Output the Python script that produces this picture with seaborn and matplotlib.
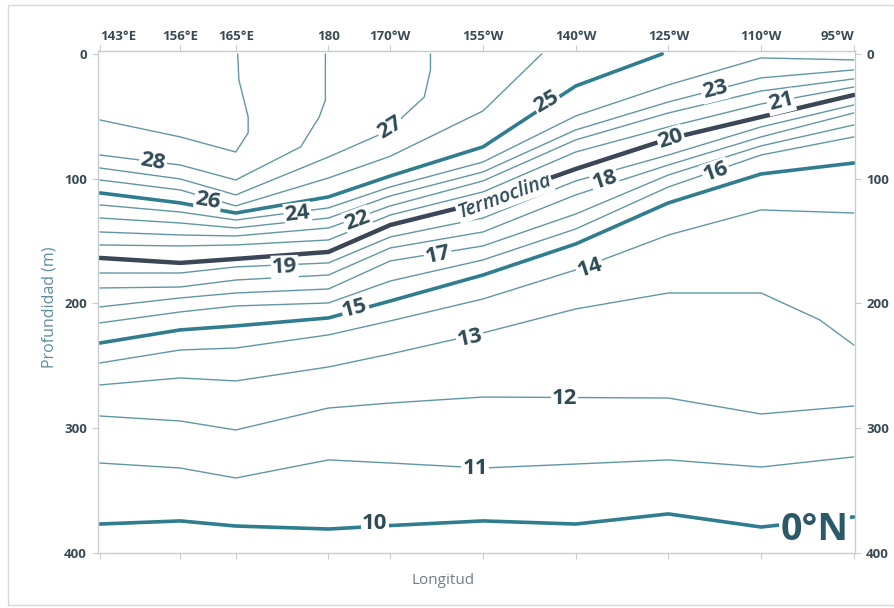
import matplotlib

matplotlib.use("Agg")
import matplotlib.pyplot as plt
import seaborn as sns
from matplotlib.patches import Rectangle

# station longitudes in degrees east (143°E ... 95°W)
stations = [143, 156, 165, 180, 190, 205, 220, 235, 250, 265]
lon_labels = ["143°E", "156°E", "165°E", "180", "170°W", "155°W",
              "140°W", "125°W", "110°W", "95°W"]
depth_ticks = [0, 100, 200, 300, 400]

# isotherm depths (m) read at each station
depth_10 = [376.8, 374.3, 378.4, 380.8, 378.0, 374.3, 376.8, 368.7, 379.2, 371.1]
depth_11 = [327.9, 331.9, 339.9, 325.4, 327.9, 331.9, 328.7, 325.4, 331.1, 323.0]
depth_12 = [290.2, 294.2, 301.4, 283.8, 279.8, 275.0, 275.4, 275.8, 288.6, 282.2]
depth_14 = [247.7, 237.3, 235.7, 225.2, 214.0, 196.4, 173.1, 145.1, 125.0, 127.5]
depth_15 = [231.7, 221.2, 218.0, 211.6, 198.0, 177.2, 152.3, 119.4, 96.2, 87.4]
depth_16 = [215.6, 206.8, 202.0, 199.6, 182.0, 165.1, 140.3, 106.6, 81.0, 66.5]
depth_17 = [202.8, 195.6, 191.6, 188.4, 165.9, 153.9, 128.3, 97.0, 73.7, 56.9]
depth_18 = [187.6, 186.8, 181.2, 177.2, 155.5, 142.7, 113.0, 89.0, 66.5, 47.3]
depth_19 = [175.6, 175.6, 170.7, 167.5, 146.7, 131.5, 101.8, 81.0, 58.5, 40.9]
depth_20 = [163.5, 167.5, 164.3, 158.7, 137.1, 118.6, 92.2, 68.1, 50.5, 32.9]
depth_21 = [153.1, 153.9, 153.1, 149.1, 129.1, 110.6, 78.6, 58.5, 40.1, 26.5]
depth_22 = [142.7, 145.1, 145.9, 139.5, 121.8, 101.8, 68.9, 47.3, 29.7, 20.0]
depth_23 = [131.5, 135.5, 139.5, 131.5, 113.8, 94.6, 60.9, 38.5, 19.2, 12.8]
depth_24 = [121.0, 126.7, 133.1, 123.4, 106.6, 86.6, 49.7, 24.8, 3.2, 4.8]

# isotherms with their own longitude points (bends or surface outcrops)
lon_13 = [143, 156, 165, 180, 190, 205, 220, 235, 250, 259.5, 265]
depth_13 = [265.3, 259.7, 262.1, 250.9, 240.5, 223.6, 204.4, 191.6, 191.6, 213.2, 233.3]
lon_25 = [143, 156, 165, 180, 190, 205, 220, 234]
depth_25 = [111.4, 119.4, 127.5, 114.6, 97.8, 74.5, 25.7, 0]
lon_26 = [143, 156, 165, 180, 190, 205, 214.5]
depth_26 = [101.0, 109.0, 121.8, 99.4, 82.0, 45.7, 0]
lon_27 = [143, 156, 165, 180, 190, 192, 195.5, 196.5, 196.5]
depth_27 = [91.4, 100.2, 113.0, 82.6, 60.9, 50.5, 34.5, 12.8, 0]
lon_28 = [143, 156, 165, 175.5, 178.5, 179.5, 179.5]
depth_28 = [81.0, 89.0, 101.0, 74.5, 50.5, 36.9, 0]
lon_29 = [143, 156, 165, 167, 167, 165.5, 165.3]
depth_29 = [52.9, 66.5, 78.6, 63.3, 50.5, 20.8, 0]

# contour labels
label_text = ["28", "26", "24", "27", "22", "19", "17", "15", "25", "23",
              "21", "20", "18", "16", "14", "13", "12", "11", "10"]
label_lon = [151.6, 160.5, 175.0, 190.0, 184.7, 172.9, 197.7, 184.3, 215.3, 242.5,
             253.2, 235.4, 224.7, 242.7, 222.3, 202.9, 218.2, 203.7, 187.5]
label_depth = [86.6, 117.8, 128.3, 59.3, 133.1, 170.7, 161.1, 203.6, 38.5, 28.9,
               38.5, 68.1, 101.0, 94.6, 171.5, 227.7, 275.8, 331.9, 376.0]
label_rot = [-10, -10, 7, 32, 20, 2, 12, 15, 30, 14,
             14, 18, 18, 19, 18, 12, 0, 0, 0]

THIN = "#5f98a4"
THICK = "#2f7d8e"
DARK = "#3b4757"
TEXT = "#2e4b57"

sns.set_theme(style="white")
plt.rcParams["font.family"] = ["Open Sans", "DejaVu Sans"]

fig = plt.figure(figsize=(8.94, 6.08), dpi=100)
ax = fig.add_axes([0.1096, 0.0905, 0.8468, 0.8257])

isotherms = [
    (10, stations, depth_10), (11, stations, depth_11), (12, stations, depth_12),
    (13, lon_13, depth_13), (14, stations, depth_14), (15, stations, depth_15),
    (16, stations, depth_16), (17, stations, depth_17), (18, stations, depth_18),
    (19, stations, depth_19), (20, stations, depth_20), (21, stations, depth_21),
    (22, stations, depth_22), (23, stations, depth_23), (24, stations, depth_24),
    (25, lon_25, depth_25), (26, lon_26, depth_26), (27, lon_27, depth_27),
    (28, lon_28, depth_28), (29, lon_29, depth_29),
]

for temp, lons, deps in isotherms:
    if temp == 20:
        color, lw = DARK, 3.2
    elif temp % 5 == 0:
        color, lw = THICK, 2.6
    else:
        color, lw = THIN, 1.0
    sns.lineplot(x=lons, y=deps, ax=ax, sort=False, estimator=None,
                 color=color, linewidth=lw, legend=False)

box = dict(facecolor="white", edgecolor="none", pad=0.8)
for txt, lo, de, rot in zip(label_text, label_lon, label_depth, label_rot):
    ax.text(lo, de, txt, fontsize=16, fontweight="bold", color=TEXT,
            ha="center", va="center", rotation=rot, rotation_mode="anchor",
            bbox=box, zorder=5)

ax.text(208.5, 114.6, "Termoclina", fontsize=14, fontstyle="italic",
        fontweight="semibold", color=TEXT, ha="center", va="center",
        rotation=20, rotation_mode="anchor", bbox=box, zorder=5)
ax.text(258.7, 381.6, "0°N", fontsize=27, fontweight="bold", color="#2b5968",
        ha="center", va="center", bbox=dict(facecolor="white", edgecolor="none", pad=1),
        zorder=5)

ax.set_xlim(142.7, 265.2)
ax.set_ylim(400, -2.4)
ax.set_xticks(stations)
ax.set_xticklabels(lon_labels)
ax.set_yticks(depth_ticks)
ax.tick_params(axis="x", top=True, bottom=True, labeltop=True, labelbottom=False,
               direction="out", length=4, width=0.8, color="#c5cdd2", pad=2,
               labelsize=9.5, labelcolor="#3a4a55")
ax.tick_params(axis="y", left=True, right=True, labelleft=True, labelright=True,
               direction="out", length=4, width=0.8, color="#c5cdd2", pad=4,
               labelsize=9.5, labelcolor="#3a4a55")
for t in ax.xaxis.get_major_ticks() + ax.yaxis.get_major_ticks():
    t.label1.set_fontweight("bold")
    t.label2.set_fontweight("bold")
ticks = ax.xaxis.get_major_ticks()
ticks[0].label2.set_ha("left")
ticks[-1].label2.set_ha("right")

for sp in ax.spines.values():
    sp.set_color("#c5cdd2")
    sp.set_linewidth(1.0)

ax.set_xlabel("Longitud", fontsize=11, color="#6d7f88")
ax.xaxis.set_label_position("bottom")
ax.xaxis.set_label_coords(0.456, -0.040)
ax.set_ylabel("Profundidad (m)", fontsize=11.5, color="#5b8fa0")
ax.yaxis.set_label_position("left")
ax.yaxis.set_label_coords(-0.053, 0.49)

# light frame around the whole picture
fig.patches.append(Rectangle((8 / 894, 3 / 608), 1.0, 600 / 608,
                             transform=fig.transFigure, fill=False,
                             edgecolor="#d5d9dc", linewidth=1.0))

fig.savefig("out.png", dpi=100)
